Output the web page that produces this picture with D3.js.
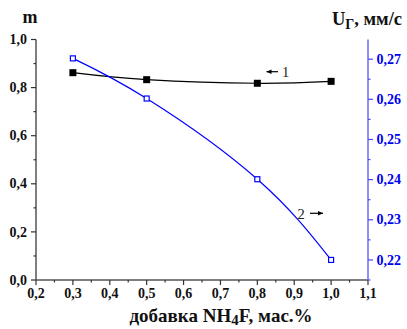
<!DOCTYPE html>
<html><head><meta charset="utf-8">
<script src="https://cdn.jsdelivr.net/npm/d3@7"></script>
<style>
body{margin:0;background:#fff;}
</style></head>
<body><svg id="c" width="407" height="329" font-family="'Liberation Serif', 'Times New Roman', serif" font-weight="bold"></svg>
<script>
const xValues = [0.3, 0.5, 0.8, 1.0];
const mValues = [0.862, 0.833, 0.818, 0.826];
const uValues = [0.2702, 0.2602, 0.2401, 0.220];
const xTicks = [0.2,0.3,0.4,0.5,0.6,0.7,0.8,0.9,1.0,1.1];
const leftTicks = [0.0,0.2,0.4,0.6,0.8,1.0];
const rightTicks = [0.22,0.23,0.24,0.25,0.26,0.27];

const svg = d3.select("#c");
const L=36, R=368, T=39.5, B=280;
const x = d3.scaleLinear().domain([0.2,1.1]).range([L,R]);
const yL = d3.scaleLinear().domain([0,1.0]).range([B,T]);
const yR = d3.scaleLinear().domain([0.215,0.2749]).range([B,T]);
const fmt = (d,p)=>d.toFixed(p).replace(".",",");

// x axis
const gx = svg.append("g").attr("transform",`translate(0,${B})`);
gx.append("line").attr("x1",L).attr("x2",R).attr("stroke","#555").attr("stroke-width",1.5);
gx.selectAll(".m").data(d3.range(0,19)).enter().append("line")
  .attr("x1",i=>x(0.2+i*0.05)).attr("x2",i=>x(0.2+i*0.05))
  .attr("y1",0).attr("y2",i=>i%2===0?5:2.5).attr("stroke","#333").attr("stroke-width",1.2);
gx.selectAll(".t").data(xTicks).enter().append("text")
  .attr("x",d=>x(d)).attr("y",18).attr("text-anchor","middle")
  .attr("font-size",14).attr("fill","#111").text(d=>fmt(d,1));

// left axis
const gl = svg.append("g").attr("transform",`translate(${L},0)`);
gl.append("line").attr("y1",yL(0)).attr("y2",yL(1.0)).attr("stroke","#555").attr("stroke-width",1.5);
gl.selectAll(".m").data(d3.range(0,11)).enter().append("line")
  .attr("y1",i=>yL(i*0.1)).attr("y2",i=>yL(i*0.1))
  .attr("x1",0).attr("x2",i=>i%2===0?-5:-2.5).attr("stroke","#333").attr("stroke-width",1.2);
gl.selectAll(".t").data(leftTicks).enter().append("text")
  .attr("x",-9).attr("y",d=>yL(d)).attr("dy","0.33em").attr("text-anchor","end")
  .attr("font-size",14).attr("fill","#111").text(d=>fmt(d,1));

// right axis
const gr = svg.append("g").attr("transform",`translate(${R},0)`);
gr.append("line").attr("y1",B).attr("y2",T).attr("stroke","#6a6aff").attr("stroke-width",1.5);
gr.selectAll(".m").data(d3.range(0,12)).enter().append("line")
  .attr("y1",i=>yR(0.215+i*0.005)).attr("y2",i=>yR(0.215+i*0.005))
  .attr("x1",0).attr("x2",i=>i%2===1?5:2.5).attr("stroke","#4a4aff").attr("stroke-width",1.2);
gr.selectAll(".t").data(rightTicks).enter().append("text")
  .attr("x",8.5).attr("y",d=>yR(d)).attr("dy","0.33em").attr("text-anchor","start")
  .attr("font-size",14).attr("fill","#0000ee").text(d=>fmt(d,2));

// lines
const ptsM = xValues.map((d,i)=>[x(d),yL(mValues[i])]);
const ptsU = xValues.map((d,i)=>[x(d),yR(uValues[i])]);
svg.append("path").attr("d",d3.line().curve(d3.curveNatural)(ptsM))
  .attr("fill","none").attr("stroke","#000").attr("stroke-width",1.2);
svg.append("path").attr("d",d3.line().curve(d3.curveNatural)(ptsU))
  .attr("fill","none").attr("stroke","#0000ff").attr("stroke-width",1.2);
svg.selectAll(".pm").data(ptsM).enter().append("rect")
  .attr("x",d=>d[0]-3.5).attr("y",d=>d[1]-3.5).attr("width",7).attr("height",7).attr("fill","#000");
svg.selectAll(".pu").data(ptsU).enter().append("rect")
  .attr("x",d=>d[0]-2.5).attr("y",d=>d[1]-2.5).attr("width",5).attr("height",5)
  .attr("fill","#fff").attr("stroke","#0000ff").attr("stroke-width",1.2);

// annotations
function arrow(x1,x2,y){
  svg.append("line").attr("x1",x1).attr("x2",x2).attr("y1",y).attr("y2",y).attr("stroke","#000").attr("stroke-width",1.2);
  const d = x2>x1?1:-1;
  svg.append("path").attr("d",`M${x2},${y}L${x2-d*5},${y-2.2}L${x2-d*5},${y+2.2}Z`).attr("fill","#000");
}
arrow(278,266.5,71.7);
svg.append("text").attr("x",282).attr("y",77).attr("font-size",14.5).attr("font-weight","normal").attr("fill","#222").text("1");
svg.append("text").attr("x",297.5).attr("y",218.5).attr("font-size",14.5).attr("font-weight","normal").attr("fill","#222").text("2");
arrow(310,323,213.3);

// titles
svg.append("text").attr("x",30).attr("y",23).attr("text-anchor","middle").attr("font-size",18).attr("fill","#111").text("m");
const ut = svg.append("text").attr("x",402).attr("y",25).attr("text-anchor","end").attr("font-size",18.5).attr("fill","#111");
ut.append("tspan").text("U");
ut.append("tspan").attr("font-size",14).attr("dy",4).text("Г");
ut.append("tspan").attr("dy",-4).text(", мм/с");
const xt = svg.append("text").attr("x",221).attr("y",321.5).attr("text-anchor","middle").attr("font-size",19).attr("fill","#111");
xt.append("tspan").text("добавка NH");
xt.append("tspan").attr("font-size",15).attr("dy",3).text("4");
xt.append("tspan").attr("dy",-3).text("F, мас.%");
</script></body></html>
